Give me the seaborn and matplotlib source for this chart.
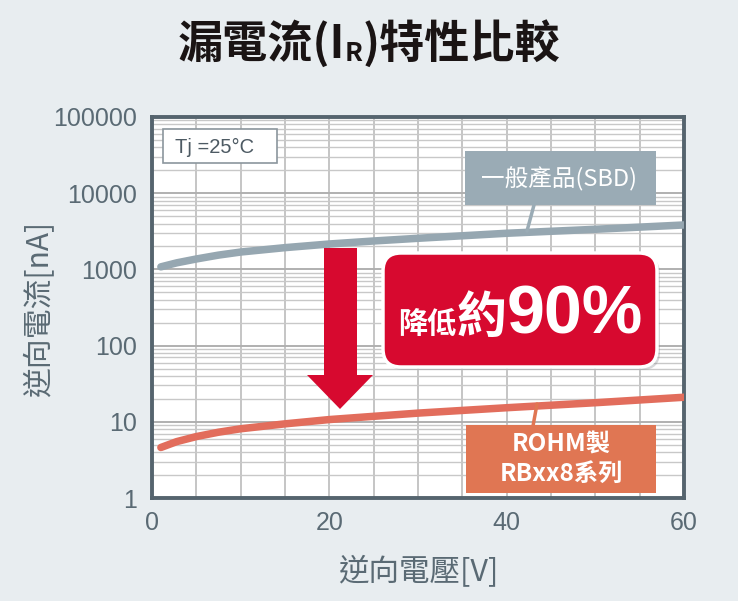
import matplotlib
matplotlib.use("Agg")
import matplotlib.pyplot as plt
import seaborn as sns
import pandas as pd
from matplotlib.patches import FancyBboxPatch, Rectangle, Polygon
from matplotlib.transforms import IdentityTransform
from matplotlib.lines import Line2D
from matplotlib.ticker import FixedLocator, LogLocator, NullFormatter

# ---------------- data ----------------
voltage = [1.0, 2.8, 5, 7.5, 10, 15, 20, 25, 30, 40, 50, 60]
sbd_current = [1080, 1220, 1370, 1540, 1690, 1930, 2155, 2360, 2560, 2980, 3360, 3830]
rohm_current = [4.6, 5.5, 6.4, 7.3, 8.1, 9.4, 10.7, 11.8, 13.0, 15.3, 17.8, 21.0]
series_names = ["一般產品(SBD)", "ROHM製\nRBxx8系列"]
x_ticks = [0, 20, 40, 60]
x_grid = [0, 5, 10, 15, 20, 25, 30, 35, 40, 45, 50, 55, 60]
y_ticks = [1, 10, 100, 1000, 10000, 100000]
y_tick_labels = ["1", "10", "100", "1000", "10000", "100000"]
title_parts = ["漏電流(I", "R", ")特性比較"]
reduction_parts = ["降低", "約", "90%"]
temp_label = "Tj =25°C"
x_label = "逆向電壓[V]"
y_label = "逆向電流[nA]"

# ---------------- style ----------------
sns.set_style("white")
CJK = ['Noto Sans CJK TC', 'DejaVu Sans']
plt.rcParams['font.family'] = CJK

W, H = 738, 601
BG = '#e8edf0'
GRAY = '#96a7b1'
GRAY_BOX = '#9aabb5'
RED_LINE = '#e26d5c'
ORANGE_BOX = '#e07653'
RED = '#d7092f'
TICK_C = '#5a6a74'
SPINE_C = '#55646e'

fig = plt.figure(figsize=(W / 100, H / 100), dpi=100)
fig.patch.set_facecolor(BG)
ax = fig.add_axes([152 / W, 1 - 498 / H, (684 - 152) / W, (498 - 117) / H])
ax.set_facecolor('white')

df = pd.DataFrame({
    'V': voltage + voltage,
    'I': sbd_current + rohm_current,
    'series': [series_names[0]] * len(voltage) + [series_names[1]] * len(voltage),
})
sns.lineplot(data=df, x='V', y='I', hue='series', hue_order=series_names,
             palette=[GRAY, RED_LINE], linewidth=5.4, legend=False, ax=ax,
             solid_capstyle='round', solid_joinstyle='round', zorder=5)

ax.set_yscale('log')
ax.set_xlim(0, 60)
ax.set_ylim(1, 100000)
ax.xaxis.set_major_locator(FixedLocator(x_ticks))
ax.xaxis.set_minor_locator(FixedLocator(x_grid))
ax.yaxis.set_major_locator(FixedLocator(y_ticks))
ax.set_yticklabels(y_tick_labels)
ax.yaxis.set_minor_locator(LogLocator(base=10, subs=range(2, 10), numticks=20))
ax.yaxis.set_minor_formatter(NullFormatter())
ax.set_xticklabels([str(t) for t in x_ticks])

ax.grid(True, which='both', axis='x', color='#bbbbbb', lw=1.2, zorder=0)
ax.grid(True, which='major', axis='y', color='#b0b0b0', lw=1.4, zorder=0)
ax.grid(True, which='minor', axis='y', color='#c8c8c8', lw=1.0, zorder=0)
ax.set_axisbelow(True)
ax.tick_params(which='both', length=0)
ax.tick_params(axis='y', pad=11, labelsize=18, labelcolor=TICK_C)
ax.tick_params(axis='x', pad=9, labelsize=18, labelcolor=TICK_C)
for lbl in ax.get_xticklabels() + ax.get_yticklabels():
    lbl.set_fontfamily(['Liberation Sans', 'DejaVu Sans'])
for sp in ax.spines.values():
    sp.set_color(SPINE_C)
    sp.set_linewidth(2.8)
ax.set_xlabel('')
ax.set_ylabel('')

T = IdentityTransform()


def D(x, y):
    return x, H - y


renderer = fig.canvas.get_renderer()

# axis labels
fig.text(*D(40, 309), y_label, transform=T, rotation=90, ha='center', va='center',
         fontsize=21.5, color=TICK_C)
fig.text(*D(418, 572), x_label, transform=T, ha='center', va='center',
         fontsize=22, color=TICK_C)

# title composed of pieces (subscript R)
sizes = [32.5, 19, 32.5]
offs = [0, -3, 0]
arts = []
for s, fs, o in zip(title_parts, sizes, offs):
    t = fig.text(0, 0, s, transform=T, fontsize=fs, fontweight='bold', color='#1a1414',
                 ha='left', va='baseline')
    arts.append((t, o))
widths = [t.get_window_extent(renderer).width for t, _ in arts]
x0 = 369 - sum(widths) / 2
base_y = H - 58
for (t, o), w in zip(arts, widths):
    t.set_position((x0, base_y + o))
    x0 += w

# Tj box
fig.add_artist(Rectangle(D(163, 163), 114, 34, transform=T, facecolor='white',
                         edgecolor='#8b969d', lw=1.2, zorder=6))
fig.text(*D(215, 147), temp_label, transform=T, ha='center', va='center',
         fontsize=14.5, color='#4d5a63', family=['Liberation Sans', 'DejaVu Sans'], zorder=7)

# gray label box + leader
fig.add_artist(Line2D([534, 527], [H - 205, H - 231], transform=T, color=GRAY_BOX, lw=2.5, zorder=6))
fig.add_artist(Rectangle(D(465, 205), 191, 54, transform=T, facecolor=GRAY_BOX,
                         edgecolor='none', zorder=6))
fig.text(*D(559, 179), series_names[0], transform=T, ha='center', va='center',
         fontsize=17, color='white', zorder=7)

# orange label box + leader
fig.add_artist(Line2D([537, 533], [H - 404, H - 426], transform=T, color=ORANGE_BOX, lw=2.5, zorder=6))
fig.add_artist(Rectangle(D(466, 493), 190, 68, transform=T, facecolor=ORANGE_BOX,
                         edgecolor='none', zorder=6))
fig.text(*D(561, 459), series_names[1], transform=T, ha='center', va='center',
         fontsize=17.5, fontweight='bold', color='white', linespacing=1.3, zorder=7)

# arrow
arrow_pts = [D(324, 248), D(357, 248), D(357, 375), D(373, 375), D(340, 409),
             D(307, 375), D(324, 375)]
fig.add_artist(Polygon(arrow_pts, closed=True, transform=T, facecolor=RED,
                       edgecolor='none', zorder=6))

# red callout box with shadow and white border
fig.add_artist(FancyBboxPatch((386, H - 370), 274, 114, transform=T,
                              boxstyle='round,pad=0,rounding_size=18',
                              facecolor='#8a8f93', alpha=0.35, edgecolor='none', zorder=6))
fig.add_artist(FancyBboxPatch((383, H - 367), 274, 114, transform=T,
                              boxstyle='round,pad=0,rounding_size=18',
                              facecolor=RED, edgecolor='white', lw=2.5, zorder=7))
r_sizes = [21, 36, 49]
r_fam = [CJK, CJK, ['Liberation Sans', 'DejaVu Sans']]
x0 = 398
for s, fs, fam in zip(reduction_parts, r_sizes, r_fam):
    t = fig.text(x0, H - 333, s, transform=T, fontsize=fs, fontweight='bold',
                 color='white', family=fam, ha='left', va='baseline', zorder=8)
    x0 += t.get_window_extent(renderer).width

fig.savefig('out.png', dpi=100, facecolor=BG)
